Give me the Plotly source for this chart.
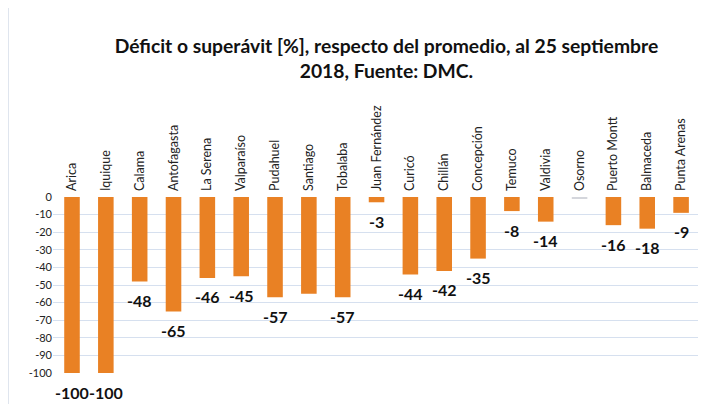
import plotly.graph_objects as go

estaciones = ["Arica", "Iquique", "Calama", "Antofagasta", "La Serena", "Valparaíso",
              "Pudahuel", "Santiago", "Tobalaba", "Juan Fernández", "Curicó", "Chillán",
              "Concepción", "Temuco", "Valdivia", "Osorno", "Puerto Montt", "Balmaceda",
              "Punta Arenas"]
valores = [-100, -100, -48, -65, -46, -45, -57, -55, -57, -3, -44, -42, -35, -8, -14, -0.6,
           -16, -18, -9]
etiquetas = ["-100", "-100", "-48", "-65", "-46", "-45", "-57", "", "-57", "-3", "-44", "-42",
             "-35", "-8", "-14", "", "-16", "-18", "-9"]
y_ticks = list(range(0, -101, -10))

colores = ["#d4d6dc" if e == "Osorno" else "#E98124" for e in estaciones]

fig = go.Figure(go.Bar(
    x=estaciones, y=valores, cliponaxis=False,
    marker=dict(color=colores, line=dict(width=0)), width=0.46,
))

anotaciones = [
    dict(x=e, y=v, text=t, showarrow=False, xref="x", yref="y", yanchor="middle", yshift=-19,
         font=dict(family="Lato, sans-serif", size=16, color="#111111", weight="bold"))
    for e, v, t in zip(estaciones, valores, etiquetas) if t
]

fig.update_layout(
    width=710, height=404, paper_bgcolor="white", plot_bgcolor="white",
    margin=dict(l=45, r=20, t=189, b=39),
    title=dict(text="<b>Déficit o superávit [%], respecto del promedio, al 25 septiembre<br>2018, Fuente: DMC.</b>",
               x=0.533, xanchor="center", y=0.888, yanchor="top",
               font=dict(family="Lato, sans-serif", size=19.3, color="#111111")),
    showlegend=False,
    annotations=anotaciones,
    xaxis=dict(side="top", tickangle=-90, ticklabelstandoff=5,
               tickfont=dict(family="Lato, sans-serif", size=12.5, color="#222222"),
               showgrid=False, showline=False, ticks=""),
    yaxis=dict(range=[-100, 0], tickvals=y_ticks, ticktext=[str(v) for v in y_ticks],
               tickfont=dict(family="Lato, sans-serif", size=11, color="#222222"),
               showgrid=True, gridcolor="#d6e0ef", gridwidth=1, zeroline=False, showline=False),
    shapes=[dict(type="line", xref="paper", yref="paper", x0=-0.069, x1=-0.069, y0=-0.3, y1=2.2,
                 line=dict(color="#dfe5ee", width=1))],
)

fig.write_html("out.html")
